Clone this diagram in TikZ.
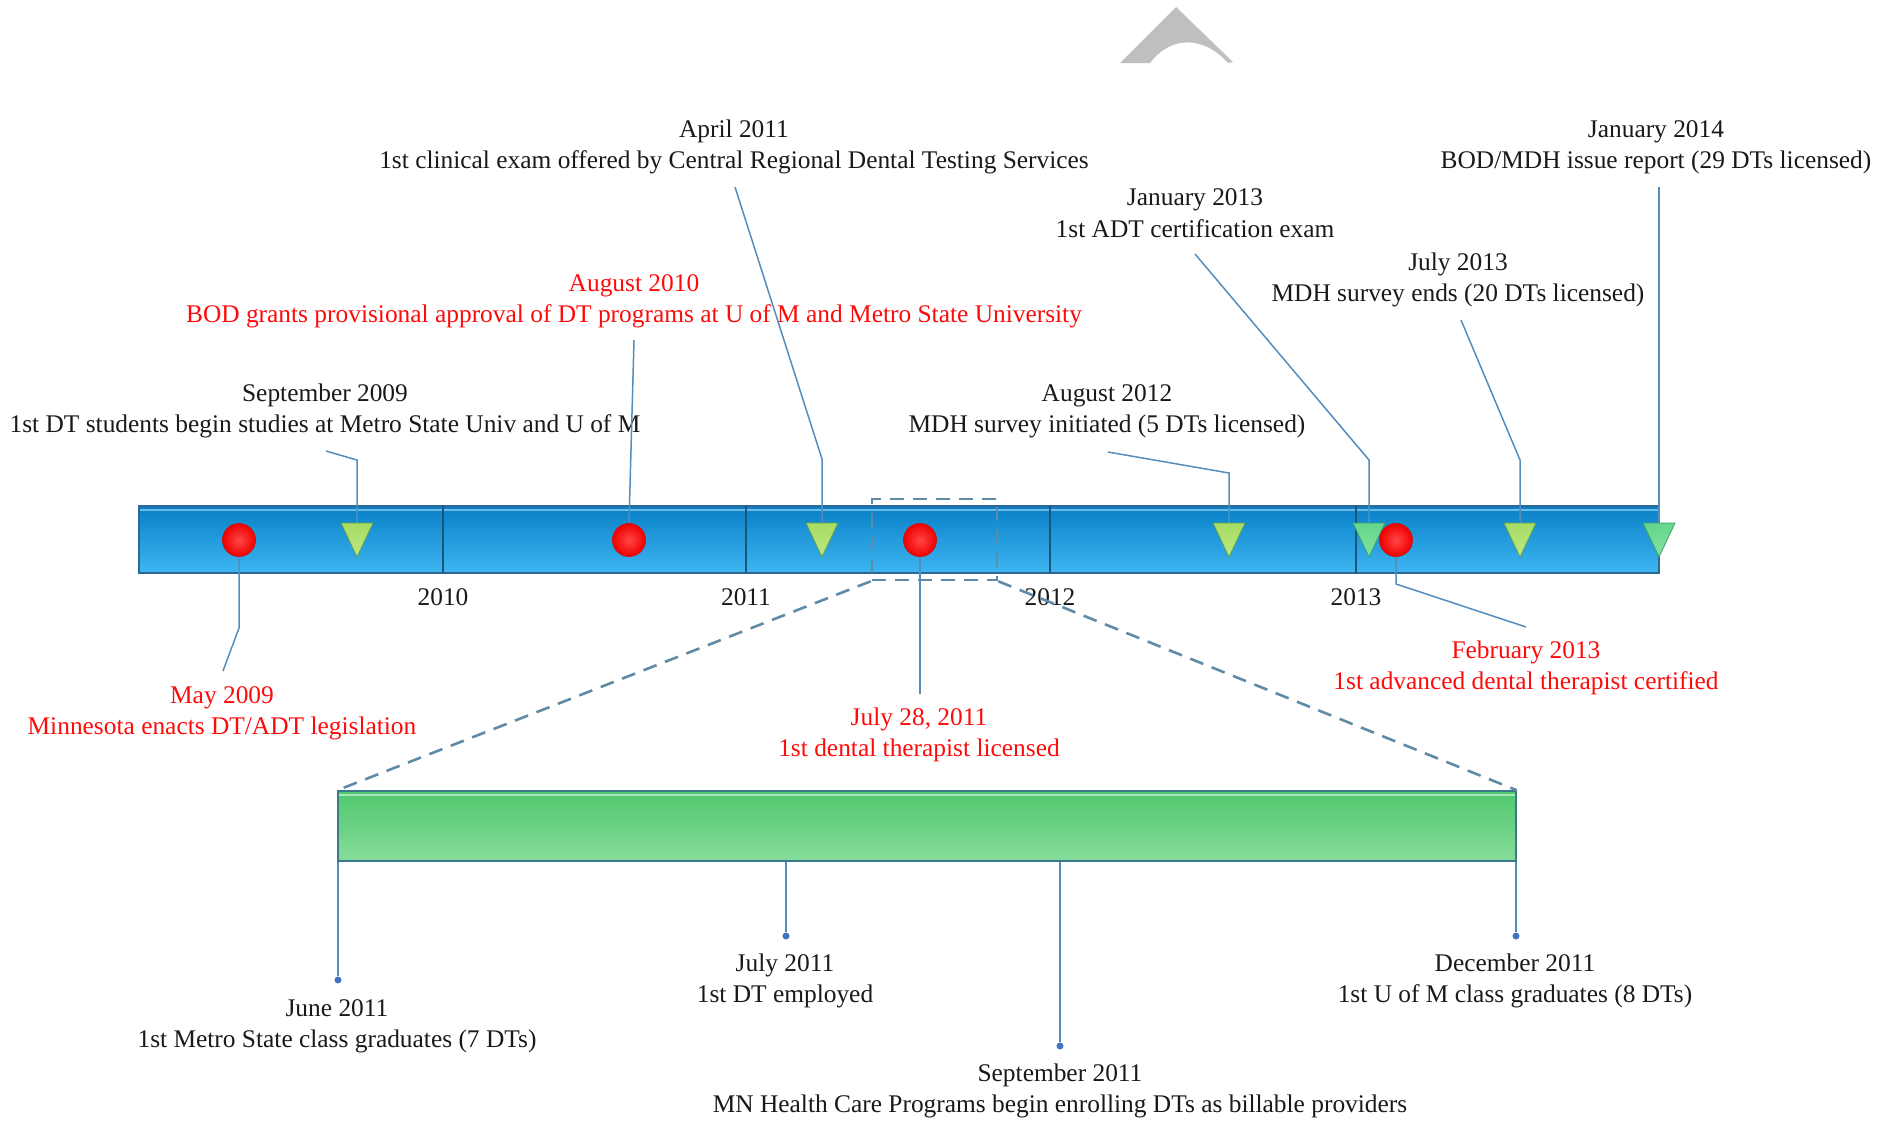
\documentclass[tikz,border=0pt]{standalone}
\usepackage{fontspec}
\setmainfont{Liberation Serif}
\usetikzlibrary{calc}
\definecolor{txt}{RGB}{25,25,25}
\definecolor{redtxt}{RGB}{255,10,10}
\definecolor{conn}{RGB}{84,141,188}
\definecolor{dashc}{RGB}{96,139,166}
\definecolor{bartop}{RGB}{8,128,198}
\definecolor{barbot}{RGB}{62,182,242}
\definecolor{barbord}{RGB}{44,104,146}
\definecolor{barhi}{RGB}{110,185,230}
\definecolor{divc}{RGB}{28,84,124}
\definecolor{gtop}{RGB}{80,200,110}
\definecolor{gbot}{RGB}{134,220,154}
\definecolor{gbord}{RGB}{58,120,140}
\definecolor{ghi}{RGB}{170,230,185}
\definecolor{tri1}{RGB}{166,220,100}
\definecolor{tri1b}{RGB}{190,232,130}
\definecolor{tri2}{RGB}{100,214,140}
\definecolor{tri2b}{RGB}{130,226,160}
\definecolor{trib}{RGB}{100,160,70}
\definecolor{trib2}{RGB}{60,160,100}
\definecolor{ballin}{RGB}{255,70,70}
\definecolor{ballout}{RGB}{240,0,0}
\definecolor{ballbord}{RGB}{200,20,20}
\definecolor{dotc}{RGB}{68,114,196}
\definecolor{archc}{RGB}{191,191,191}
\tikzset{
  lbl/.style={align=center, text=txt, inner sep=0pt, font=\fontsize{25.4}{31.4}\selectfont},
  rlbl/.style={lbl, text=redtxt},
  yr/.style={text=txt, inner sep=0pt, font=\fontsize{25.4}{28}\selectfont},
  conn/.style={draw=conn, line width=1.5pt},
  redball/.style={circle, minimum size=33pt, inner sep=0pt, draw=ballbord, line width=0.8pt, inner color=ballin, outer color=ballout},
  trigreen/.style={draw=trib, line width=0.8pt, top color=tri1, bottom color=tri1b},
  triteal/.style={draw=trib2, line width=0.8pt, top color=tri2, bottom color=tri2b},
  divline/.style={draw=divc, line width=1.8pt},
  dashln/.style={draw=dashc, line width=2.6pt, dash pattern=on 14pt off 9pt},
  gdot/.style={circle, fill=dotc, minimum size=7pt, inner sep=0pt},
}
\newcommand{\tridown}[2]{\path[#1] (#2) ++(-16,0) -- ++(32,0) -- ++(-16,34) -- cycle;}
\begin{document}
\begin{tikzpicture}[x=1pt,y=-1pt]
\useasboundingbox (0,0) rectangle (1893,1122);
% top arch
\fill[archc] (1120,63) -- (1176,7) -- (1233,62) -- (1228,63) .. controls (1205,37) and (1172,34) .. (1150,63) -- cycle;

% main bar
\node[draw=barbord, line width=1.5pt, top color=bartop, bottom color=barbot, minimum width=1520pt, minimum height=67pt, inner sep=0pt] (bbar) at (899,539.5) {};
\draw[barhi, line width=1.2pt] (140,510) -- (1658,510);
\foreach \x in {443,746,1050,1356} \draw[divline] (\x,506) -- (\x,573);
\node[yr] (y2010) at (443,597) {2010};
\node[yr] (y2011) at (746,597) {2011};
\node[yr] (y2012) at (1050,597) {2012};
\node[yr] (y2013) at (1356,597) {2013};

% triangle markers (top points)
\coordinate (sep09) at (357,523);
\coordinate (apr11) at (822,523);
\coordinate (aug12) at (1229,523);
\coordinate (jan13) at (1369,523);
\coordinate (jul13) at (1520,523);
\coordinate (jan14) at (1659,523);
\tridown{trigreen}{sep09}
\tridown{trigreen}{apr11}
\tridown{trigreen}{aug12}
\tridown{triteal}{jan13}
\tridown{trigreen}{jul13}
\tridown{triteal}{jan14}

% circle markers
\node[redball] (may09) at (239,540) {};
\node[redball] (aug10) at (629,540) {};
\node[redball] (jul28) at (920,540) {};
\node[redball] (feb13) at (1396,540) {};

% zoom box
\node[dashln, minimum width=125pt, minimum height=81pt, inner sep=0pt] (zbox) at (934.5,539.5) {};

% labels above
\node[lbl] (lapr11) at (734,147) {April 2011\\1st clinical exam offered by Central Regional Dental Testing Services};
\node[lbl] (ljan14) at (1656,147) {January 2014\\BOD/MDH issue report (29 DTs licensed)};
\node[lbl] (ljan13) at (1195,213) {January 2013\\1st ADT certification exam};
\node[lbl] (ljul13) at (1458,280) {July 2013\\MDH survey ends (20 DTs licensed)};
\node[rlbl] (laug10) at (634,301) {August 2010\\BOD grants provisional approval of DT programs at U of M and Metro State University};
\node[lbl] (lsep09) at (325,411) {September 2009\\1st DT students begin studies at Metro State Univ and U of M};
\node[lbl] (laug12) at (1107,411) {August 2012\\MDH survey initiated (5 DTs licensed)};

% labels below
\node[rlbl] (lmay09) at (222,713) {May 2009\\Minnesota enacts DT/ADT legislation};
\node[rlbl] (ljul28) at (919,735) {July 28, 2011\\1st dental therapist licensed};
\node[rlbl] (lfeb13) at (1526,668) {February 2013\\1st advanced dental therapist certified};

% connector ends
\coordinate (esep09) at (326,451);
\coordinate (eaug10) at (634,340);
\coordinate (eapr11) at (735,187);
\coordinate (eaug12) at (1108,452);
\coordinate (ejan13) at (1195,254);
\coordinate (ejul13) at (1461,320);
\coordinate (ejan14) at (1659,187);
\coordinate (emay09) at (223,671);
\coordinate (ejul28) at (920,694);
\coordinate (efeb13) at (1526,627);

\draw[conn] (sep09) -- ++(0,-63) -- (esep09);
\draw[conn] (aug10.north) -- (eaug10);
\draw[conn] (apr11) -- ++(0,-64) -- (eapr11);
\draw[conn] (aug12) -- ++(0,-50) -- (eaug12);
\draw[conn] (jan13) -- ++(0,-63) -- (ejan13);
\draw[conn] (jul13) -- ++(0,-63) -- (ejul13);
\draw[conn] (jan14) -- (ejan14);
\draw[conn] (may09.south) -- (239,628) -- (emay09);
\draw[conn] (jul28.south) -- (ejul28);
\draw[conn] (feb13.south) -- (1396,584) -- (efeb13);

% green bar
\node[draw=gbord, line width=1.5pt, top color=gtop, bottom color=gbot, minimum width=1178pt, minimum height=70pt, inner sep=0pt] (gbar) at (927,826) {};
\draw[ghi, line width=1.2pt] (339,795) -- (1515,795);

\draw[dashln] (zbox.south west) -- (gbar.north west);
\draw[dashln] (zbox.south east) -- (gbar.north east);

% green bar events
\node[gdot] (djun11) at (338,980) {};
\node[gdot] (djul11) at (786,936) {};
\node[gdot] (dsep11) at (1060,1046) {};
\node[gdot] (ddec11) at (1516,936) {};
\draw[conn] (djun11 |- gbar.south) -- (djun11);
\draw[conn] (djul11 |- gbar.south) -- (djul11);
\draw[conn] (dsep11 |- gbar.south) -- (dsep11);
\draw[conn] (ddec11 |- gbar.south) -- (ddec11);

\node[lbl] (ljun11) at (337,1026) {June 2011\\1st Metro State class graduates (7 DTs)};
\node[lbl] (ljul11) at (785,981) {July 2011\\1st DT employed};
\node[lbl] (lsep11) at (1060,1091) {September 2011\\MN Health Care Programs begin enrolling DTs as billable providers};
\node[lbl] (ldec11) at (1515,981) {December 2011\\1st U of M class graduates (8 DTs)};
\end{tikzpicture}
\end{document}
